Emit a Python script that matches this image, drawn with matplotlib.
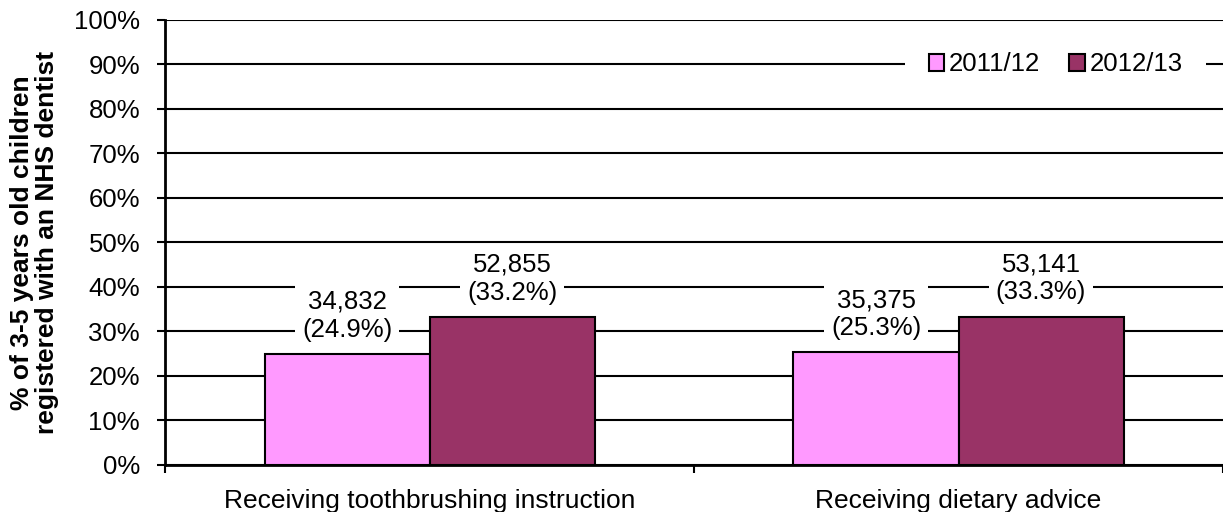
import matplotlib.pyplot as plt
import numpy as np

plt.rcParams['font.family'] = ['Liberation Sans', 'DejaVu Sans']

categories = ['Receiving toothbrushing instruction', 'Receiving dietary advice']
years = ['2011/12', '2012/13']
pct_2011 = [24.9, 25.3]
pct_2012 = [33.2, 33.3]
count_2011 = [34832, 35375]
count_2012 = [52855, 53141]
colors = ['#FF99FF', '#993366']

fig = plt.figure(figsize=(12.23, 5.12), dpi=100)
ax = fig.add_axes([0.135, 0.092, 0.865, 0.869])

x = np.arange(len(categories))
w = 0.312
fs = 18.5

ax.set_axisbelow(True)
ax.yaxis.grid(True, color='black', linewidth=1.5)

series = [(pct_2011, count_2011), (pct_2012, count_2012)]
for i, (pct, cnt) in enumerate(series):
    xs = x + (i - 0.5) * w
    ax.bar(xs, pct, w, color=colors[i], edgecolor='black', linewidth=1.5,
           label=years[i], zorder=2)
    for xi, p, c in zip(xs, pct, cnt):
        ax.annotate(f'{c:,}\n({p}%)', (xi, p), xytext=(0, 9),
                    textcoords='offset points', ha='center', va='bottom',
                    fontsize=fs, linespacing=1.2, zorder=3,
                    bbox=dict(facecolor='white', edgecolor='none', pad=5))

ax.set_xlim(-0.5, 1.5)
ax.set_ylim(0, 100)
ax.set_yticks(np.arange(0, 101, 10))
ax.set_yticklabels([f'{v}%' for v in range(0, 101, 10)], fontsize=fs)
ax.set_xticks(x)
ax.set_xticklabels(categories, fontsize=19)
ax.tick_params(axis='x', length=0, pad=17)
ax.set_xticks([-0.5, 0.5, 1.5], minor=True)
ax.tick_params(axis='x', which='minor', length=6, width=1.5, direction='out')
ax.tick_params(axis='y', length=6, width=1.5, direction='out', pad=12)

for s in ['top', 'right']:
    ax.spines[s].set_visible(False)
for s in ['left', 'bottom']:
    ax.spines[s].set_linewidth(2)
    ax.spines[s].set_zorder(4)

ax.set_ylabel('% of 3-5 years old children\nregistered with an NHS dentist',
              fontsize=19, fontweight='bold', linespacing=1.05, labelpad=11)

leg = ax.legend(loc='center', bbox_to_anchor=(0.842, 0.9), ncol=2, fontsize=fs,
                frameon=True, fancybox=False, edgecolor='none',
                handlelength=0.6, handleheight=0.6, handletextpad=0.2,
                columnspacing=1.13, borderpad=0.9)
leg.get_frame().set_facecolor('white')
leg.get_frame().set_alpha(1)

fig.savefig('out.png', dpi=100)
